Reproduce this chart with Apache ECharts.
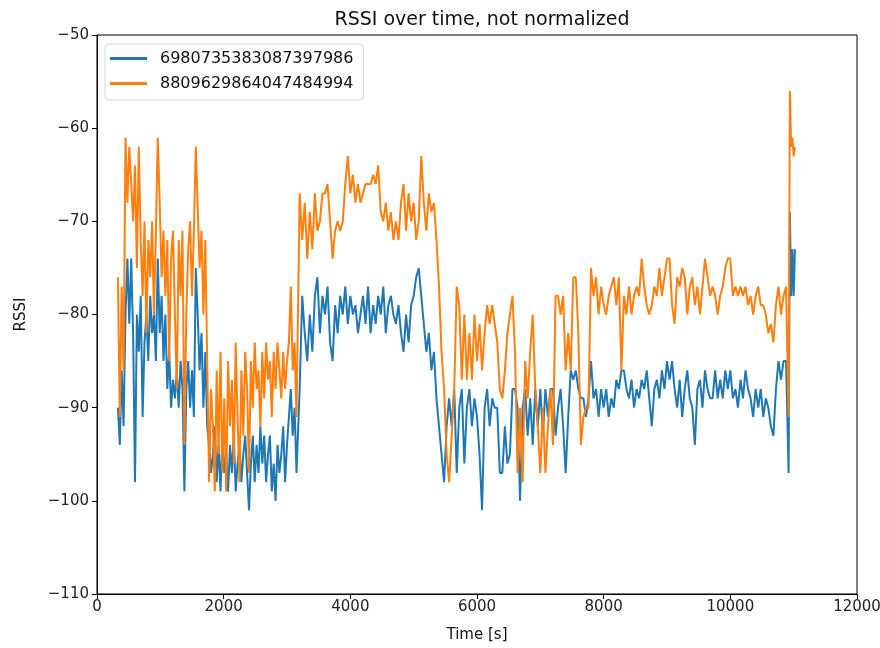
<!DOCTYPE html>
<html>
<head>
<meta charset="utf-8">
<script src="https://cdn.jsdelivr.net/npm/echarts@6/dist/echarts.min.js"></script>
<style>
  html, body { margin: 0; padding: 0; background: #fff; }
  #container { width: 880px; height: 648px; }
</style>
</head>
<body>
<div id="container"></div>
<script>
// time stamps [s]
var timeSec = [
  330,360,390,420,450,480,510,540,570,600,
  630,660,690,720,750,780,810,840,870,900,
  930,960,990,1020,1050,1080,1110,1140,1170,1200,
  1230,1260,1290,1320,1350,1380,1410,1440,1470,1500,
  1530,1560,1590,1620,1650,1680,1710,1740,1770,1800,
  1830,1860,1890,1920,1950,1980,2010,2040,2070,2100,
  2130,2160,2190,2220,2250,2280,2310,2340,2370,2400,
  2430,2460,2490,2520,2550,2580,2610,2640,2670,2700,
  2730,2760,2790,2820,2850,2880,2910,2940,2970,3000,
  3030,3060,3090,3120,3150,
  3200,3240,3280,3320,3360,3400,3440,3480,3520,3560,
  3600,3640,3680,3720,3760,3800,3840,3880,3920,3960,
  4000,4040,4080,4120,4160,4200,4240,4280,4320,4360,
  4400,4440,4480,4520,4560,4600,4640,4680,4720,4760,
  4800,4840,4880,4920,4960,5000,5040,5080,5120,5160,
  5200,5240,5280,
  5320,5360,5400,5440,5480,5520,5560,5600,5640,5680,
  5720,5760,5800,5840,5880,5920,5960,6000,6040,6080,
  6120,6160,6200,6240,6280,
  6320,6360,6400,6440,6480,6520,6560,6600,6640,6680,
  6720,6760,6800,6840,6880,6920,6960,7000,7040,7080,
  7120,7160,7200,7240,7280,7320,7360,7400,7440,7480,
  7520,7560,7600,7640,7680,7720,7760,7800,7840,7880,
  7920,7960,8000,8040,8080,8120,8160,8200,8240,8280,
  8320,8360,8400,8440,8480,8520,8560,8600,8640,8680,
  8720,8760,8800,8840,8880,8920,8960,9000,9040,9080,
  9120,9160,9200,9240,9280,9320,9360,9400,9440,9480,
  9520,9560,9600,9640,9680,9720,9760,9800,9840,9880,
  9920,9960,10000,10040,10080,10120,10160,10200,10240,10280,
  10320,10360,10400,10440,10480,10520,10560,10600,10640,10680,
  10720,10760,10800,10840,10880,
  10920,10940,10960,10980,11000,11020
];

// RSSI of device 6980735383087397986
var rssiBlue = [
  -90,-94,-86,-92,-80,-74,-81,-74,-82,-98,
  -80,-84,-78,-91,-83,-80,-85,-78,-82,-80,
  -85,-74,-82,-78,-85,-80,-88,-84,-90,-87,
  -89,-86,-90,-85,-88,-99,-88,-85,-90,-86,
  -91,-75,-80,-86,-82,-90,-84,-92,-94,-97,
  -95,-92,-98,-94,-99,-93,-97,-95,-99,-94,
  -97,-93,-99,-96,-94,-98,-95,-93,-97,-101,
  -96,-93,-98,-94,-97,-92,-96,-93,-98,-95,
  -93,-99,-96,-100,-94,-97,-95,-92,-98,-94,
  -91,-88,-93,-90,-97,
  -88,-78,-82,-85,-80,-84,-78,-76,-82,-78,
  -80,-77,-83,-85,-79,-82,-78,-80,-77,-81,
  -78,-80,-79,-82,-80,-78,-81,-77,-82,-79,
  -81,-78,-80,-77,-82,-79,-78,-80,-81,-79,
  -82,-84,-80,-83,-79,-78,-76,-75,-78,-81,
  -84,-82,-86,
  -84,-89,-92,-95,-98,-92,-89,-92,-88,-97,
  -90,-88,-96,-90,-88,-92,-89,-91,-95,-101,
  -90,-88,-92,-89,-90,
  -90,-97,-97,-92,-96,-95,-88,-88,-90,-100,
  -90,-88,-93,-89,-94,-88,-92,-88,-93,-88,
  -91,-88,-88,-93,-90,-88,-92,-97,-91,-86,
  -87,-86,-88,-89,-89,-91,-89,-85,-89,-88,
  -91,-88,-90,-88,-91,-89,-90,-87,-88,-86,
  -86,-88,-89,-87,-90,-88,-89,-87,-88,-86,
  -89,-92,-88,-87,-89,-86,-88,-85,-87,-85,
  -88,-90,-87,-91,-88,-86,-89,-90,-94,-88,
  -87,-90,-86,-88,-89,-89,-86,-89,-87,-89,
  -86,-88,-86,-89,-88,-90,-87,-89,-86,-88,
  -89,-91,-88,-90,-88,-91,-89,-90,-92,-93,
  -88,-85,-87,-85,-85,
  -97,-69,-78,-73,-78,-73
];

// RSSI of device 8809629864047484994
var rssiOrange = [
  -76,-91,-77,-86,-61,-68,-62,-66,-70,-64,
  -75,-62,-72,-78,-70,-82,-72,-76,-70,-80,
  -71,-61,-68,-76,-71,-78,-72,-85,-74,-71,
  -80,-88,-72,-78,-71,-94,-80,-73,-70,-78,
  -71,-62,-62,-75,-71,-80,-72,-85,-98,-88,
  -92,-99,-86,-95,-84,-97,-89,-99,-85,-92,
  -87,-96,-83,-91,-98,-86,-93,-84,-88,-97,
  -85,-90,-83,-88,-86,-92,-84,-89,-83,-87,
  -85,-91,-84,-88,-83,-86,-89,-84,-88,-85,
  -83,-77,-86,-83,-91,
  -67,-72,-68,-74,-69,-73,-67,-71,-70,-67,
  -67,-66,-70,-74,-71,-70,-71,-70,-66,-63,
  -67,-65,-68,-66,-68,-67,-66,-66,-66,-65,
  -66,-64,-69,-70,-68,-71,-69,-72,-70,-72,
  -68,-66,-71,-67,-70,-68,-72,-70,-63,-68,
  -71,-67,-69,
  -68,-72,-77,-84,-88,-95,-98,-93,-88,-77,
  -79,-87,-80,-87,-82,-87,-80,-85,-81,-86,
  -82,-79,-81,-79,-81,
  -83,-88,-89,-86,-82,-80,-78,-84,-97,-90,
  -98,-85,-89,-84,-80,-88,-92,-97,-90,-97,
  -92,-88,-94,-78,-78,-80,-78,-86,-82,-86,
  -76,-76,-82,-94,-91,-90,-90,-75,-78,-76,
  -80,-77,-79,-80,-78,-77,-76,-79,-76,-86,
  -78,-80,-77,-80,-78,-77,-78,-74,-77,-79,
  -80,-79,-77,-78,-75,-78,-76,-74,-74,-79,
  -81,-76,-77,-75,-76,-80,-77,-76,-79,-77,
  -80,-77,-74,-76,-78,-77,-78,-80,-78,-77,
  -75,-74,-74,-78,-77,-78,-77,-78,-77,-79,
  -78,-80,-78,-77,-79,-79,-80,-82,-81,-83,
  -79,-77,-80,-78,-77,
  -91,-56,-62,-61,-63,-62
];

var seriesNames = ['6980735383087397986', '8809629864047484994'];
var xTicks = [0, 2000, 4000, 6000, 8000, 10000, 12000];
var yTicks = [-110, -100, -90, -80, -70, -60, -50];

function pairs(ts, vs) {
    var out = [];
    for (var i = 0; i < ts.length && i < vs.length; i++) {
        out.push([ts[i], vs[i]]);
    }
    return out;
}

function graficoRssi(){
    var dom = document.getElementById("container");
    var myChart = echarts.init(dom, null, { renderer: 'canvas' });
    var font = 'DejaVu Sans';
    // matplotlib style minus sign, no thousands separator
    var fmt = function (v) { return String(v).replace('-', '\u2212'); };
    var axisCommon = {
        axisLine: { show: true, onZero: false, lineStyle: { color: '#000', width: 1 } },
        axisTick: { show: true, inside: false, length: 5, lineStyle: { color: '#000' } },
        splitLine: { show: false },
        nameTextStyle: { fontFamily: font, fontSize: 15, color: '#111' }
    };
    var option = {
        animation: false,
        backgroundColor: '#fff',
        title: {
            text: 'RSSI over time, not normalized',
            left: 477,
            top: 6,
            textAlign: 'center',
            textStyle: { fontFamily: font, fontSize: 19, fontWeight: 'normal', color: '#111' }
        },
        legend: {
            data: seriesNames,
            orient: 'vertical',
            left: 105,
            top: 44,
            icon: 'rect',
            itemWidth: 37,
            itemHeight: 3,
            itemGap: 8,
            padding: [6, 10, 8, 5],
            borderColor: '#d6d6d6',
            borderWidth: 1,
            borderRadius: 4,
            backgroundColor: 'rgba(255,255,255,0.8)',
            textStyle: { fontFamily: font, fontSize: 16, color: '#111', padding: [0, 0, 0, 8], lineHeight: 17 }
        },
        grid: {
            left: 97, right: 23, top: 35, bottom: 54,
            outerBoundsMode: 'none',
            containLabel: false,
            show: true, borderColor: '#000', borderWidth: 1, backgroundColor: 'transparent'
        },
        xAxis: Object.assign({
            type: 'value',
            min: xTicks[0],
            max: xTicks[xTicks.length - 1],
            interval: 2000,
            name: 'Time [s]',
            nameLocation: 'middle',
            nameGap: 34,
            axisLabel: { fontFamily: font, fontSize: 15, color: '#222', margin: 6, formatter: fmt }
        }, axisCommon),
        yAxis: Object.assign({
            type: 'value',
            min: yTicks[0],
            max: yTicks[yTicks.length - 1],
            interval: 10,
            name: 'RSSI',
            nameLocation: 'middle',
            nameGap: 68,
            axisLabel: { fontFamily: font, fontSize: 15, color: '#222', margin: 8, formatter: fmt }
        }, axisCommon),
        series: [{
            name: seriesNames[0],
            type: 'line',
            data: pairs(timeSec, rssiBlue),
            showSymbol: false,
            color: '#1f77b4',
            lineStyle: { width: 2, color: '#1f77b4' }
        }, {
            name: seriesNames[1],
            type: 'line',
            data: pairs(timeSec, rssiOrange),
            showSymbol: false,
            color: '#ff7f0e',
            lineStyle: { width: 2, color: '#ff7f0e' }
        }]
    };
    if (option && typeof option === 'object') {
        myChart.setOption(option);
    }
}
graficoRssi();
</script>
</body>
</html>
